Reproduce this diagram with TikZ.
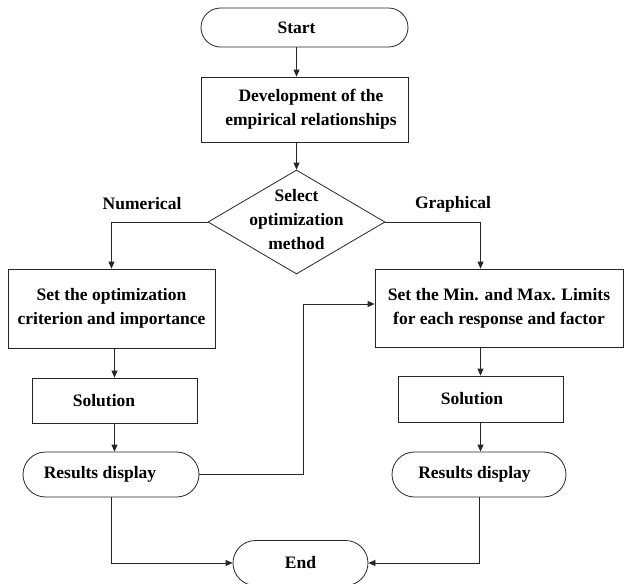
\documentclass[tikz,border=0pt]{standalone}
\usepackage{fontspec}
\setmainfont{Liberation Serif}
\usetikzlibrary{shapes.misc,shapes.geometric,arrows.meta}
\tikzset{
  base/.style={draw=black!85, line width=0.8pt, font=\fontsize{17.5}{24}\selectfont\bfseries, align=center, inner sep=0pt, text=black},
  procbox/.style={base, rectangle},
  term/.style={base, rounded rectangle},
  conn/.style={draw=black!85, line width=0.8pt, -{Triangle[length=7pt,width=6pt]}},
  lbl/.style={font=\fontsize{17.5}{24}\selectfont\bfseries, text=black, inner sep=0pt}
}
\begin{document}
\begin{tikzpicture}[x=1pt,y=1pt]
\useasboundingbox (0,0) rectangle (625,-584);
% nodes
\node[term, minimum width=207pt, minimum height=39pt] (start) at (304.5,-27.5) {Start\hspace*{16pt}};
\node[procbox, minimum width=207pt, minimum height=65pt] (dev) at (304.5,-109.5) {\hspace*{13pt}Development of the\\\hspace*{13pt}empirical relationships};
\node[base, diamond, minimum width=177pt, minimum height=104pt] (dia) at (296.5,-222) {};
\node[lbl, align=center] (diatext) at (296.5,-220) {Select\\optimization\\method};
\node[lbl] (num) at (142,-204) {Numerical};
\node[lbl] (gra) at (453,-204) {Graphical};
\node[procbox, minimum width=207pt, minimum height=79pt] (box1) at (111.5,-308.5) {Set the optimization\\criterion and importance};
\node[procbox, minimum width=248pt, minimum height=78pt] (box2) at (499,-308) {Set the Min. and Max. Limits\\for each response and factor};
\node[procbox, minimum width=165pt, minimum height=45pt] (sol1) at (114.5,-400.5) {Solution\hspace*{21pt}};
\node[procbox, minimum width=165pt, minimum height=46pt] (sol2) at (480.5,-399) {Solution\hspace*{17pt}};
\node[term, minimum width=176pt, minimum height=45pt] (res1) at (111,-474.5) {Results display\hspace*{22pt}};
\node[term, minimum width=174pt, minimum height=45pt] (res2) at (479,-474.5) {Results display\hspace*{9pt}};
\node[term, minimum width=135pt, minimum height=45pt] (end) at (300.5,-563) {End};
\coordinate (bend) at (303,-304);
% connectors
\draw[conn] (start.south -| dia.north) -- (dev.north -| dia.north);
\draw[conn] (dev.south -| dia.north) -- (dia.north);
\draw[conn] (dia.west) -| (box1.north);
\draw[conn] (dia.east) -| (sol2.north |- box2.north);
\draw[conn] (box1.south -| sol1.north) -- (sol1.north);
\draw[conn] (sol1.south) -- (sol1.south |- res1.north);
\draw[conn] (box2.south -| sol2.north) -- (sol2.north);
\draw[conn] (sol2.south) -- (sol2.south |- res2.north);
\draw[conn] (res1.east) -| (bend) -- (bend -| box2.west);
\draw[conn] (res1.south) |- (end.west);
\draw[conn] (res2.south) |- (end.east);
\end{tikzpicture}
\end{document}
